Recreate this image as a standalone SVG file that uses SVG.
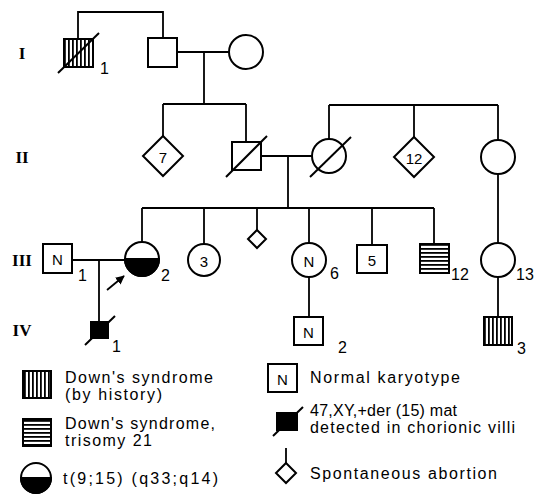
<svg xmlns="http://www.w3.org/2000/svg" width="534" height="498" viewBox="0 0 534 498">
<defs>
<style>
.n{fill:#fff;stroke:#000;stroke-width:2}
.ln{fill:none;stroke:#000;stroke-width:1.8}
.sl{fill:none;stroke:#000;stroke-width:2}
.gen{font-family:"Liberation Serif",serif;font-weight:bold;font-size:17px;text-anchor:middle}
.in{font-family:"Liberation Sans",sans-serif;font-size:15px;text-anchor:middle;dominant-baseline:central}
.lb{font-family:"Liberation Sans",sans-serif;font-size:16px}
.lg{font-family:"Liberation Sans",sans-serif;font-size:16px}
</style>
<pattern id="vs" patternUnits="userSpaceOnUse" width="4" height="4"><rect width="4" height="4" fill="#fff"/><rect x="0" width="1.8" height="4" fill="#000"/></pattern>
<pattern id="hs" patternUnits="userSpaceOnUse" width="4" height="4"><rect width="4" height="4" fill="#fff"/><rect y="0" width="4" height="1.8" fill="#000"/></pattern>
<marker id="ah" viewBox="0 0 10 10" refX="9" refY="5" markerWidth="5" markerHeight="5" orient="auto"><path d="M0,0 L10,5 L0,10 z" fill="#000"/></marker>
</defs>
<rect width="534" height="498" fill="#fff"/>
<g id="gen-labels">
<text class="gen" x="22" y="59">I</text>
<text class="gen" x="22" y="163">II</text>
<text class="gen" x="22" y="266">III</text>
<text class="gen" x="22" y="336">IV</text>
</g>
<g id="connectors">
<path class="ln" d="M78,39 V12 H163 V38"/>
<path class="ln" d="M177,52 H229"/>
<path class="ln" d="M204,52 V104"/>
<path class="ln" d="M163,104 H246"/>
<path class="ln" d="M163,104 V136"/>
<path class="ln" d="M246,104 V142"/>
<path class="ln" d="M261,156 H312"/>
<path class="ln" d="M329,105 H498"/>
<path class="ln" d="M329,105 V139"/>
<path class="ln" d="M414,105 V137"/>
<path class="ln" d="M498,105 V140"/>
<path class="ln" d="M288,156 V208"/>
<path class="ln" d="M142,208 H434"/>
<path class="ln" d="M142,208 V242"/>
<path class="ln" d="M204,208 V244"/>
<path class="ln" d="M257,208 V230"/>
<path class="ln" d="M309,208 V243"/>
<path class="ln" d="M372,208 V245"/>
<path class="ln" d="M434,208 V244"/>
<path class="ln" d="M498,174 V243"/>
<path class="ln" d="M72,260 H125"/>
<path class="ln" d="M99,260 V322"/>
<path class="ln" d="M309,277 V317"/>
<path class="ln" d="M498,277 V317"/>
<path class="ln" d="M107,290 L124,276" marker-end="url(#ah)"/>
</g>
<g id="I-1">
<rect x="64" y="39" width="29" height="28" fill="url(#vs)" stroke="#000" stroke-width="2"/>
<path class="sl" d="M58,73 L99,33"/>
<text class="lb" x="100" y="74">1</text>
</g>
<g id="I-2"><rect class="n" x="148" y="38" width="29" height="29"/></g>
<g id="I-3"><circle class="n" cx="246" cy="52" r="17"/></g>
<g id="II-7"><path class="n" d="M163,136 L183,156 L163,176 L143,156 Z"/><text class="in" x="163" y="157">7</text></g>
<g id="II-2"><rect class="n" x="232" y="142" width="29" height="28"/><path class="sl" d="M226,177 L267,136"/></g>
<g id="II-3"><circle class="n" cx="329" cy="156" r="17"/><path class="sl" d="M310,177 L351,137"/></g>
<g id="II-12"><path class="n" d="M414,137 L434,157 L414,177 L394,157 Z"/><text class="in" x="414" y="158">12</text></g>
<g id="II-5"><circle class="n" cx="498" cy="157" r="17"/></g>
<g id="III-1"><rect class="n" x="43" y="244" width="29" height="29"/><text class="in" x="57.5" y="259">N</text><text class="lb" x="78" y="281">1</text></g>
<g id="III-2">
<circle class="n" cx="142" cy="259" r="17"/>
<path d="M125,259 A17,17 0 0 0 159,259 Z" fill="#000" stroke="#000" stroke-width="2"/>
<text class="lb" x="161" y="281">2</text>
</g>
<g id="III-3"><circle class="n" cx="204" cy="260" r="16"/><text class="in" x="204" y="261">3</text></g>
<g id="III-sab"><path class="n" d="M257,230 L266,239 L257,248 L248,239 Z"/></g>
<g id="III-6"><circle class="n" cx="309" cy="260" r="17"/><text class="in" x="309" y="261">N</text><text class="lb" x="330" y="279">6</text></g>
<g id="III-5"><rect class="n" x="357" y="245" width="30" height="28"/><text class="in" x="372" y="260">5</text></g>
<g id="III-12"><rect x="420" y="244" width="29" height="29" fill="url(#hs)" stroke="#000" stroke-width="2"/><text class="lb" x="451" y="280">12</text></g>
<g id="III-13"><circle class="n" cx="498" cy="260" r="17"/><text class="lb" x="516" y="280">13</text></g>
<g id="IV-1"><rect x="91" y="322" width="17" height="16" fill="#000" stroke="#000" stroke-width="2"/><path class="sl" d="M85,345 L115,316"/><text class="lb" x="112" y="352">1</text></g>
<g id="IV-2"><rect class="n" x="294" y="317" width="29" height="28"/><text class="in" x="308.5" y="332">N</text><text class="lb" x="338" y="353">2</text></g>
<g id="IV-3"><rect x="484" y="317" width="28" height="28" fill="url(#vs)" stroke="#000" stroke-width="2"/><text class="lb" x="517" y="354">3</text></g>
<g id="legend">
<rect x="23" y="371" width="28" height="27" fill="url(#vs)" stroke="#000" stroke-width="2"/>
<text class="lg" x="65" y="383" textLength="148">Down's syndrome</text>
<text class="lg" x="65" y="400" textLength="97">(by history)</text>
<rect x="23" y="419" width="28" height="27" fill="url(#hs)" stroke="#000" stroke-width="2"/>
<text class="lg" x="65" y="429" textLength="150">Down's syndrome,</text>
<text class="lg" x="65" y="446" textLength="87">trisomy 21</text>
<circle class="n" cx="36" cy="478" r="15"/>
<path d="M21,478 A15,15 0 0 0 51,478 Z" fill="#000" stroke="#000" stroke-width="2"/>
<text class="lg" x="63" y="484" textLength="155">t(9;15) (q33;q14)</text>
<rect class="n" x="268" y="364" width="29" height="28"/>
<text class="in" x="282.5" y="379">N</text>
<text class="lg" x="310" y="383" textLength="150">Normal karyotype</text>
<rect x="277" y="413" width="20" height="17" fill="#000" stroke="#000" stroke-width="2"/>
<path class="sl" d="M273,436 L303,407"/>
<text class="lg" x="310" y="416" textLength="147">47,XY,+der (15) mat</text>
<text class="lg" x="310" y="433" textLength="205">detected in chorionic villi</text>
<path class="ln" d="M286,448 V463"/>
<path class="n" d="M286,463 L296,473 L286,483 L276,473 Z"/>
<text class="lg" x="310" y="479" textLength="187">Spontaneous abortion</text>
</g>
</svg>
